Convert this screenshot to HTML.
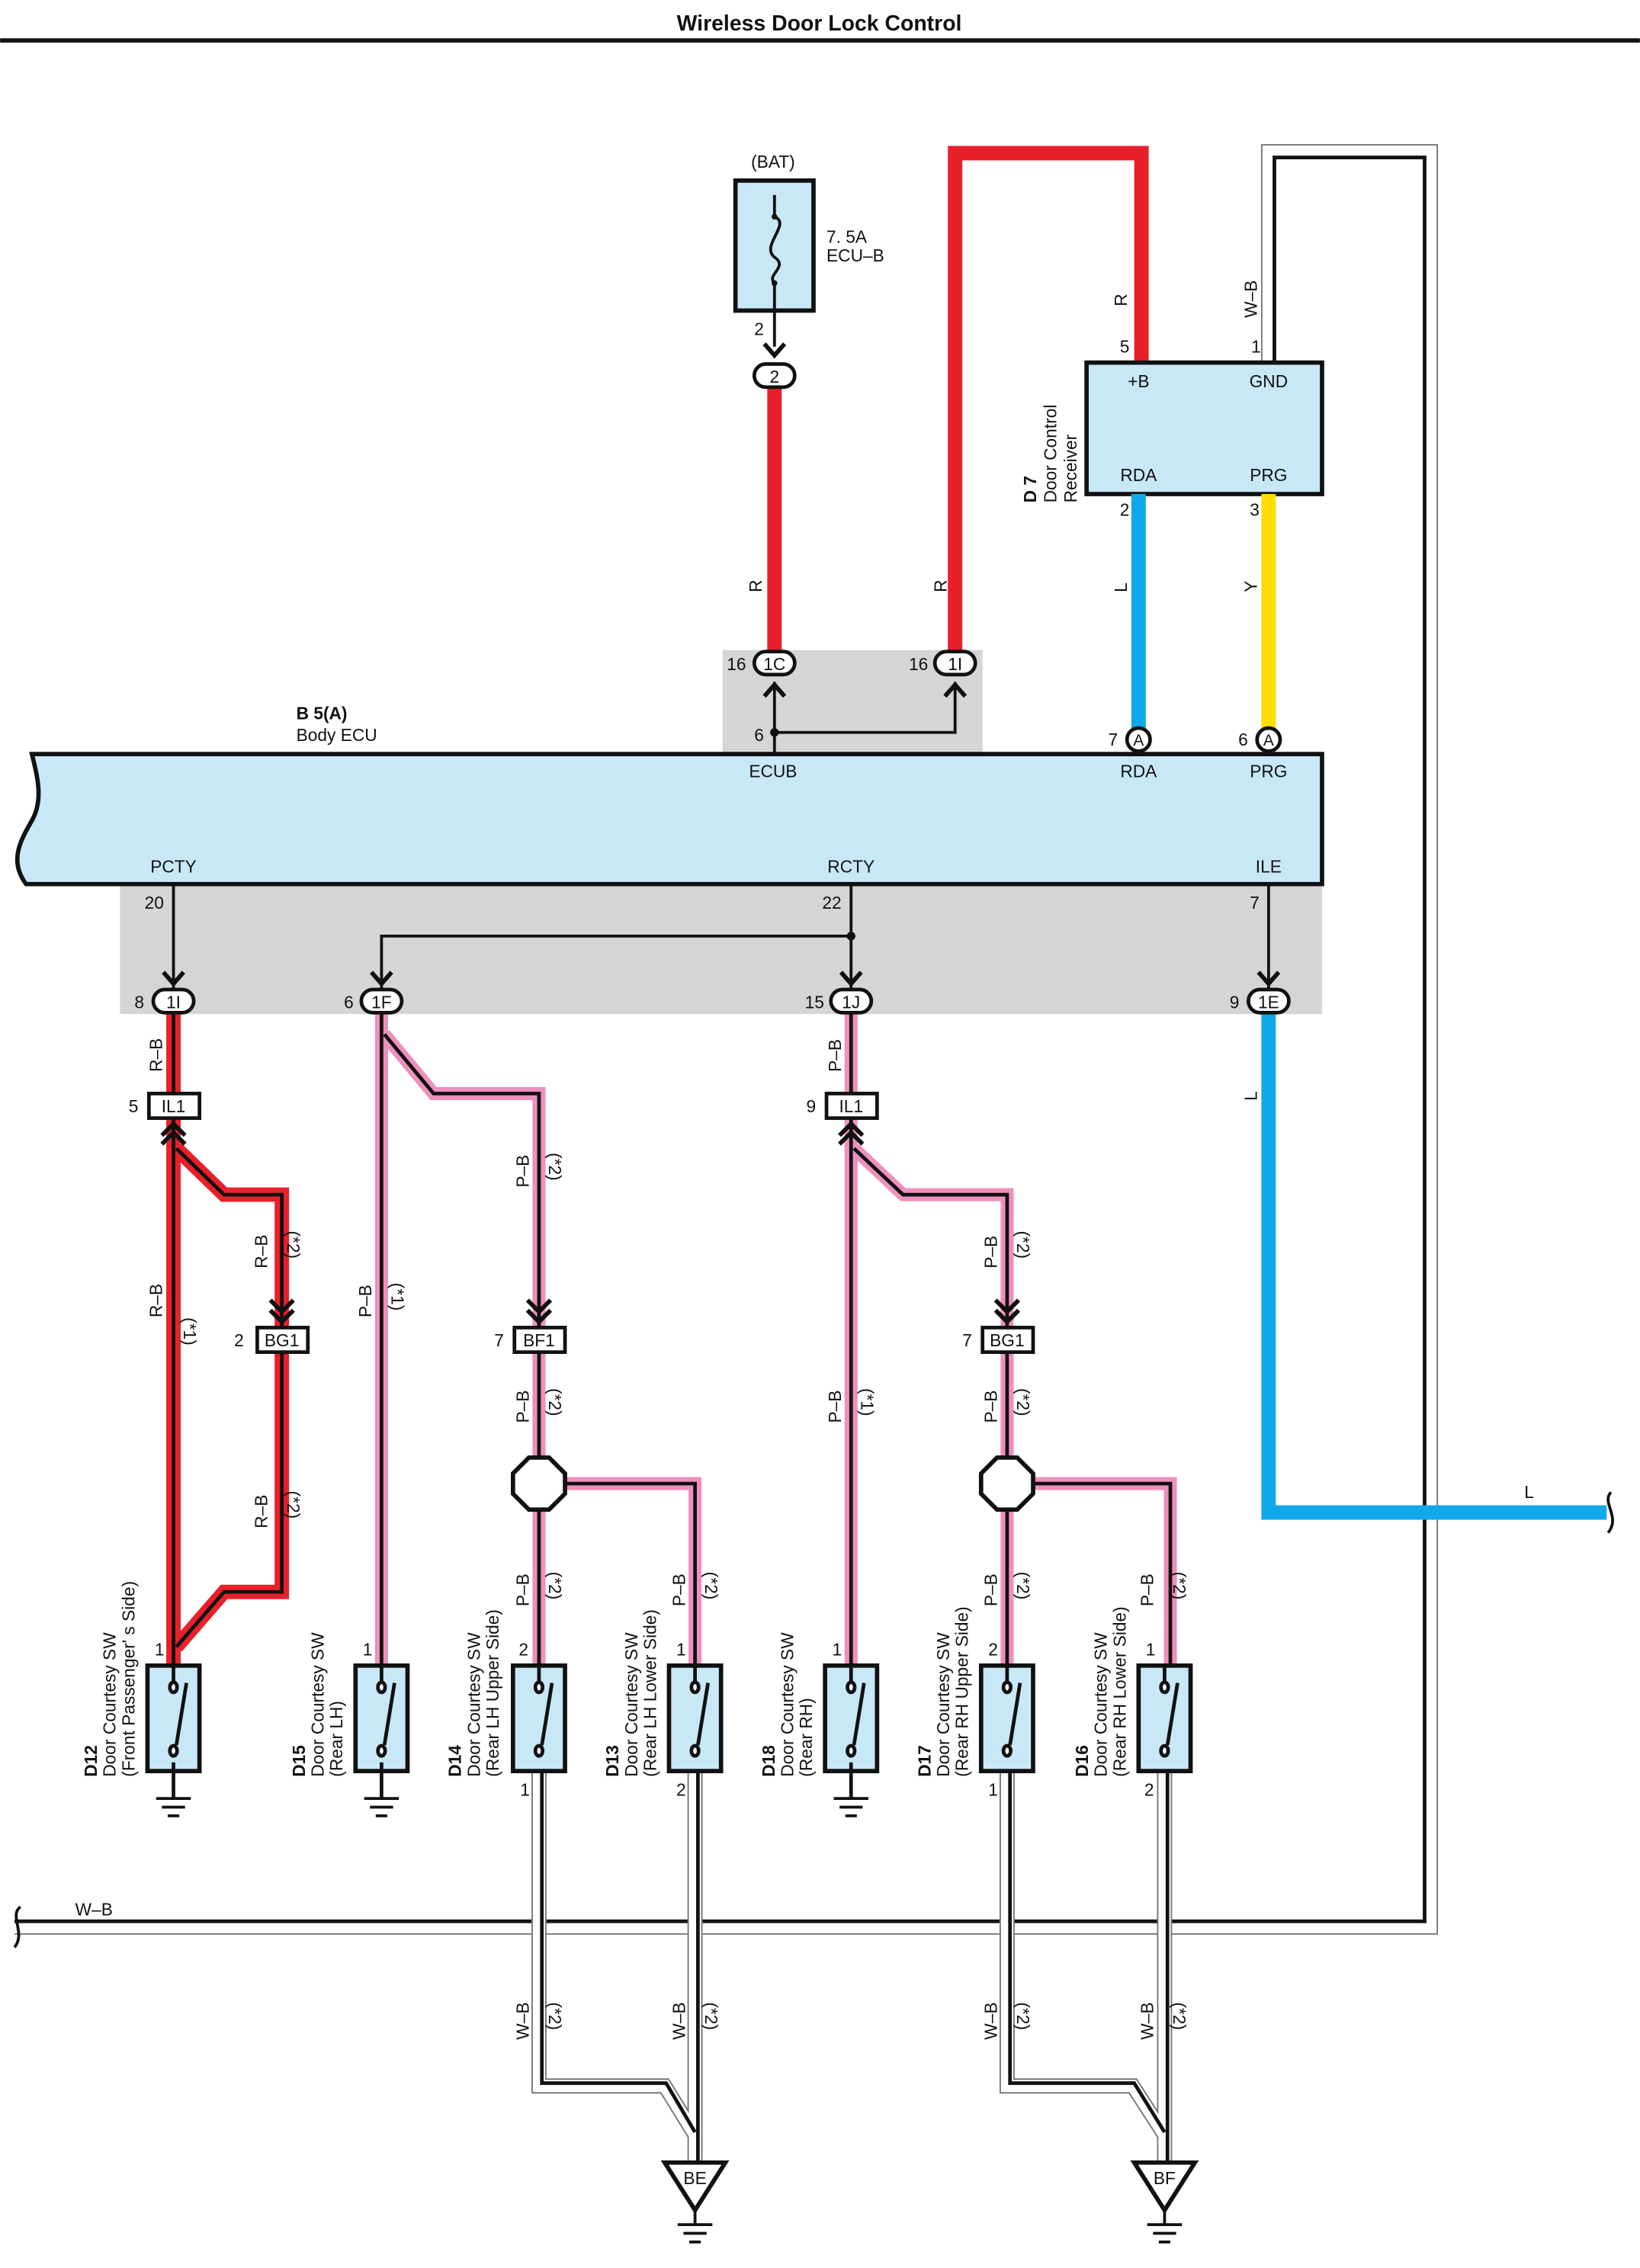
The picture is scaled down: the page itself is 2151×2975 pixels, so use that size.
<!DOCTYPE html>
<html><head><meta charset="utf-8"><style>
html,body{margin:0;padding:0;background:#fff;}
svg{display:block;}
text{font-family:"Liberation Sans",sans-serif;font-size:12px;fill:#111;}
.b{font-weight:bold;}
.rb1{stroke:#e8202a;stroke-width:10;fill:none;stroke-linejoin:miter;}
.rb2{stroke:#111;stroke-width:2.5;fill:none;}
.pb1{stroke:#ef8fbd;stroke-width:9;fill:none;}
.pb2{stroke:#111;stroke-width:2.5;fill:none;}
.wb1{stroke:#777;stroke-width:10.5;fill:none;}
.wb0{stroke:#fff;stroke-width:8.5;fill:none;}
.wb2{stroke:#111;stroke-width:2.5;fill:none;}
.r{stroke:#e8202a;stroke-width:10;fill:none;}
.l{stroke:#10a8e8;stroke-width:10;fill:none;}
.y{stroke:#ffdd00;stroke-width:10;fill:none;}
.con{fill:#fff;stroke:#111;stroke-width:2.5;}
.box{fill:#fff;stroke:#111;stroke-width:2.5;}
.sw{fill:#c8e8f8;stroke:#111;stroke-width:3;}
.ln{stroke:#111;stroke-width:2;fill:none;}
.chev{stroke:#111;stroke-width:3;fill:none;}
</style></head><body>
<svg width="2151" height="2975" viewBox="0 0 1135 1570" xmlns="http://www.w3.org/2000/svg">
<text x="567" y="21" text-anchor="middle" class="b" style="font-size:15px">Wireless Door Lock Control</text>
<line x1="0" y1="28" x2="1135" y2="28" stroke="#111" stroke-width="3"/>

<!-- gray backgrounds -->
<rect x="500" y="450" width="180" height="72" fill="#d4d5d7"/>
<rect x="83" y="612" width="832" height="90" fill="#d4d5d7"/>

<!-- W-B big loop -->
<g>
<path d="M878,250 L878,105 L990,105 L990,1334 L10,1334" class="wb1"/>
<path d="M878,250 L878,105 L990,105 L990,1334 L10,1334" class="wb0"/>
<path d="M882,250 L882,109 L986,109 L986,1330 L10,1330" class="wb2"/>
</g>
<path d="M14,1320 C6,1326 18,1338 10,1348" class="ln"/>
<text x="52" y="1326">W–B</text>
<text transform="translate(870,220) rotate(-90)">W–B</text>
<text x="866" y="244">1</text>

<!-- Fuse -->
<text x="535" y="116" text-anchor="middle">(BAT)</text>
<rect x="509" y="125" width="54" height="90" class="sw"/>
<path d="M536,135 L536,150 C548,155 526,170 536,178 C546,185 530,190 536,196 L536,240" class="ln"/>
<circle cx="536" cy="150" r="2" fill="#111"/><circle cx="536" cy="196" r="2" fill="#111"/>
<text x="572" y="168">7. 5A</text>
<text x="572" y="181">ECU–B</text>
<text x="522" y="232">2</text>
<path d="M529,238 L536,246 L543,238" class="chev"/>
<path class="r" d="M536,268 L536,452"/>
<rect x="522" y="252" width="28" height="16" rx="8" class="con"/>
<text x="536" y="265" text-anchor="middle">2</text>
<text transform="translate(527,410) rotate(-90)">R</text>

<!-- R to receiver -->
<path class="r" d="M661,452 L661,106 L790,106 L790,252"/>
<text transform="translate(655,410) rotate(-90)">R</text>
<text transform="translate(780,212) rotate(-90)">R</text>
<text x="775" y="244">5</text>

<!-- Receiver -->
<rect x="752" y="251" width="163" height="91" class="sw"/>
<text x="788" y="268" text-anchor="middle">+B</text>
<text x="878" y="268" text-anchor="middle">GND</text>
<text x="788" y="333" text-anchor="middle">RDA</text>
<text x="878" y="333" text-anchor="middle">PRG</text>
<text transform="translate(717,348) rotate(-90)" class="b">D 7</text>
<text transform="translate(731,348) rotate(-90)">Door Control</text>
<text transform="translate(745,348) rotate(-90)">Receiver</text>
<path class="l" d="M788,342 L788,504"/>
<path class="y" d="M878,342 L878,504"/>
<text x="775" y="357">2</text><text x="865" y="357">3</text>
<text transform="translate(780,410) rotate(-90)">L</text>
<text transform="translate(870,410) rotate(-90)">Y</text>
<circle cx="788" cy="512" r="8" class="con"/><text x="788" y="516" text-anchor="middle" style="font-size:11px">A</text>
<circle cx="878" cy="512" r="8" class="con"/><text x="878" y="516" text-anchor="middle" style="font-size:11px">A</text>
<text x="767" y="516">7</text><text x="857" y="516">6</text>

<!-- ECUB connectors -->
<rect x="522" y="451" width="28" height="16" rx="8" class="con"/>
<text x="536" y="464" text-anchor="middle">1C</text>
<rect x="647" y="451" width="28" height="16" rx="8" class="con"/>
<text x="661" y="464" text-anchor="middle">1I</text>
<text x="503" y="464">16</text><text x="629" y="464">16</text>
<path d="M536,522 L536,507 L661,507 L661,472" class="ln"/>
<line x1="536" y1="507" x2="536" y2="472" class="ln"/>
<circle cx="536" cy="507" r="3" fill="#111"/>
<path d="M529,482 L536,474 L543,482" class="chev"/>
<path d="M654,482 L661,474 L668,482" class="chev"/>
<text x="522" y="513">6</text>

<!-- Body ECU -->
<text x="205" y="498" class="b">B 5(A)</text>
<text x="205" y="513">Body ECU</text>
<path d="M22,522 L915,522 L915,612 L18,612 C6,596 14,582 22,568 C30,554 26,538 22,522 Z" fill="#c8e8f8" stroke="#111" stroke-width="3"/>
<text x="535" y="538" text-anchor="middle">ECUB</text>
<text x="788" y="538" text-anchor="middle">RDA</text>
<text x="878" y="538" text-anchor="middle">PRG</text>
<text x="120" y="604" text-anchor="middle">PCTY</text>
<text x="589" y="604" text-anchor="middle">RCTY</text>
<text x="878" y="604" text-anchor="middle">ILE</text>
<text x="100" y="629">20</text><text x="569" y="629">22</text><text x="865" y="629">7</text>

<!-- ECU lower lines -->
<line x1="120" y1="612" x2="120" y2="684" class="ln"/>
<path d="M589,612 L589,684 M589,648 L264,648 L264,684" class="ln"/>
<circle cx="589" cy="648" r="3" fill="#111"/>
<line x1="878" y1="612" x2="878" y2="684" class="ln"/>
<path d="M113,673 L120,681 L127,673 M257,673 L264,681 L271,673 M582,673 L589,681 L596,673 M871,673 L878,681 L885,673" class="chev"/>

<!-- L blue -->
<path class="l" d="M878,700 L878,1047 L1112,1047"/>
<path d="M1115,1033 C1108,1040 1122,1050 1113,1061" class="ln"/>
<text transform="translate(870,762) rotate(-90)">L</text>
<text x="1055" y="1037">L</text>

<!-- R-B left column -->
<g>
<path class="rb1" d="M120,700 L120,1152"/>
<path class="rb1" d="M122,795 L155,827 L195,827 L195,918"/>
<path class="rb1" d="M195,936 L195,1102 L155,1102 L122,1140"/>
<path class="rb2" d="M120,700 L120,1152"/>
<path class="rb2" d="M122,795 L155,827 L195,827 L195,918"/>
<path class="rb2" d="M195,936 L195,1102 L155,1102 L122,1140"/>
</g>
<rect x="103" y="757" width="35" height="17" class="box"/>
<text x="120" y="770" text-anchor="middle">IL1</text><text x="89" y="770">5</text>
<path d="M112,786 L120,778 L128,786 M112,792 L120,784 L128,792" class="chev"/>
<rect x="178" y="919" width="35" height="17" class="box"/>
<text x="195" y="932" text-anchor="middle">BG1</text><text x="162" y="932">2</text>
<path d="M187,900 L195,908 L203,900 M187,907 L195,915 L203,907" class="chev"/>
<text transform="translate(112,742) rotate(-90)">R–B</text>
<text transform="translate(112,912) rotate(-90)">R–B</text>
<text transform="translate(127,912) rotate(90)">(*1)</text>
<text transform="translate(185,878) rotate(-90)">R–B</text>
<text transform="translate(199,852) rotate(90)">(*2)</text>
<text transform="translate(185,1058) rotate(-90)">R–B</text>
<text transform="translate(199,1032) rotate(90)">(*2)</text>

<!-- P-B 1F column -->
<g>
<path class="pb1" d="M264,700 L264,1152"/>
<path class="pb1" d="M266,716 L300,757 L373,757 L373,918"/>
<path class="pb1" d="M373,936 L373,1152"/>
<path class="pb1" d="M392,1027 L481,1027 L481,1152"/>
<path class="pb2" d="M264,700 L264,1152"/>
<path class="pb2" d="M266,716 L300,757 L373,757 L373,918"/>
<path class="pb2" d="M373,936 L373,1152"/>
<path class="pb2" d="M392,1027 L481,1027 L481,1152"/>
</g>
<rect x="356" y="919" width="35" height="17" class="box"/>
<text x="373" y="932" text-anchor="middle">BF1</text><text x="342" y="932">7</text>
<path d="M365,900 L373,908 L381,900 M365,907 L373,915 L381,907" class="chev"/>
<path d="M366,1009 L380,1009 L391,1020 L391,1034 L380,1045 L366,1045 L355,1034 L355,1020 Z" fill="#fff" stroke="#111" stroke-width="3"/>
<text transform="translate(257,912) rotate(-90)">P–B</text>
<text transform="translate(271,888) rotate(90)">(*1)</text>
<text transform="translate(366,822) rotate(-90)">P–B</text>
<text transform="translate(380,798) rotate(90)">(*2)</text>
<text transform="translate(366,985) rotate(-90)">P–B</text>
<text transform="translate(380,961) rotate(90)">(*2)</text>
<text transform="translate(366,1112) rotate(-90)">P–B</text>
<text transform="translate(380,1088) rotate(90)">(*2)</text>
<text transform="translate(474,1112) rotate(-90)">P–B</text>
<text transform="translate(488,1088) rotate(90)">(*2)</text>

<!-- P-B 1J column -->
<g>
<path class="pb1" d="M589,700 L589,1152"/>
<path class="pb1" d="M591,795 L625,827 L697,827 L697,918"/>
<path class="pb1" d="M697,936 L697,1152"/>
<path class="pb1" d="M716,1027 L810,1027 L810,1152"/>
<path class="pb2" d="M589,700 L589,1152"/>
<path class="pb2" d="M591,795 L625,827 L697,827 L697,918"/>
<path class="pb2" d="M697,936 L697,1152"/>
<path class="pb2" d="M716,1027 L810,1027 L810,1152"/>
</g>
<rect x="572" y="757" width="35" height="17" class="box"/>
<text x="589" y="770" text-anchor="middle">IL1</text><text x="558" y="770">9</text>
<path d="M581,786 L589,778 L597,786 M581,792 L589,784 L597,792" class="chev"/>
<rect x="680" y="919" width="35" height="17" class="box"/>
<text x="697" y="932" text-anchor="middle">BG1</text><text x="666" y="932">7</text>
<path d="M689,900 L697,908 L705,900 M689,907 L697,915 L705,907" class="chev"/>
<path d="M690,1009 L704,1009 L715,1020 L715,1034 L704,1045 L690,1045 L679,1034 L679,1020 Z" fill="#fff" stroke="#111" stroke-width="3"/>
<text transform="translate(582,742) rotate(-90)">P–B</text>
<text transform="translate(582,985) rotate(-90)">P–B</text>
<text transform="translate(596,961) rotate(90)">(*1)</text>
<text transform="translate(690,878) rotate(-90)">P–B</text>
<text transform="translate(704,852) rotate(90)">(*2)</text>
<text transform="translate(690,985) rotate(-90)">P–B</text>
<text transform="translate(704,961) rotate(90)">(*2)</text>
<text transform="translate(690,1112) rotate(-90)">P–B</text>
<text transform="translate(704,1088) rotate(90)">(*2)</text>
<text transform="translate(798,1112) rotate(-90)">P–B</text>
<text transform="translate(812,1088) rotate(90)">(*2)</text>

<!-- Connectors row (on top of wires) -->
<rect x="106" y="685" width="28" height="16" rx="8" class="con"/><text x="120" y="698" text-anchor="middle">1I</text><text x="93" y="698">8</text>
<rect x="250" y="685" width="28" height="16" rx="8" class="con"/><text x="264" y="698" text-anchor="middle">1F</text><text x="238" y="698">6</text>
<rect x="575" y="685" width="28" height="16" rx="8" class="con"/><text x="589" y="698" text-anchor="middle">1J</text><text x="557" y="698">15</text>
<rect x="864" y="685" width="28" height="16" rx="8" class="con"/><text x="878" y="698" text-anchor="middle">1E</text><text x="851" y="698">9</text>

<!-- W-B lower branches -->
<g>
<path class="wb1" d="M373,1226 L373,1444 L460,1444 L481,1478 M481,1226 L481,1496"/>
<path class="wb0" d="M373,1226 L373,1444 L460,1444 L481,1478 M481,1226 L481,1496"/>
<path class="wb2" d="M375,1226 L375,1442 L461,1442 L481,1476 M483,1226 L483,1496"/>
<path class="wb1" d="M697,1226 L697,1444 L784,1444 L806,1478 M806,1226 L806,1496"/>
<path class="wb0" d="M697,1226 L697,1444 L784,1444 L806,1478 M806,1226 L806,1496"/>
<path class="wb2" d="M699,1226 L699,1442 L785,1442 L806,1476 M808,1226 L808,1496"/>
</g>
<text transform="translate(366,1412) rotate(-90)">W–B</text>
<text transform="translate(380,1386) rotate(90)">(*2)</text>
<text transform="translate(474,1412) rotate(-90)">W–B</text>
<text transform="translate(488,1386) rotate(90)">(*2)</text>
<text transform="translate(690,1412) rotate(-90)">W–B</text>
<text transform="translate(704,1386) rotate(90)">(*2)</text>
<text transform="translate(798,1412) rotate(-90)">W–B</text>
<text transform="translate(812,1386) rotate(90)">(*2)</text>
<text x="360" y="1243">1</text><text x="468" y="1243">2</text>
<text x="684" y="1243">1</text><text x="792" y="1243">2</text>

<!-- BE / BF grounds -->
<path d="M460,1497 L502,1497 L481,1530 Z" fill="#fff" stroke="#111" stroke-width="3"/>
<text x="481" y="1512" text-anchor="middle">BE</text>
<path d="M481,1530 L481,1540 M469,1540 L493,1540 M473,1546 L489,1546 M477,1552 L485,1552" class="ln"/>
<path d="M785,1497 L827,1497 L806,1530 Z" fill="#fff" stroke="#111" stroke-width="3"/>
<text x="806" y="1512" text-anchor="middle">BF</text>
<path d="M806,1530 L806,1540 M794,1540 L818,1540 M798,1546 L814,1546 M802,1552 L810,1552" class="ln"/>

<!-- switches -->
<g id="sws">
<rect x="102" y="1153" width="36" height="73" class="sw"/>
<rect x="246" y="1153" width="36" height="73" class="sw"/>
<rect x="355" y="1153" width="36" height="73" class="sw"/>
<rect x="463" y="1153" width="36" height="73" class="sw"/>
<rect x="571" y="1153" width="36" height="73" class="sw"/>
<rect x="679" y="1153" width="36" height="73" class="sw"/>
<rect x="788" y="1153" width="36" height="73" class="sw"/>
</g>
<g stroke="#111" stroke-width="2.5" fill="#fff">
<path d="M120,1153 L120,1164 M120,1220 L120,1245 M129,1165 L122,1208" fill="none"/><ellipse cx="120" cy="1168" rx="2.5" ry="3.5"/><ellipse cx="120" cy="1212" rx="2.5" ry="3.5"/>
<path d="M264,1153 L264,1164 M264,1220 L264,1245 M273,1165 L266,1208" fill="none"/><ellipse cx="264" cy="1168" rx="2.5" ry="3.5"/><ellipse cx="264" cy="1212" rx="2.5" ry="3.5"/>
<path d="M373,1153 L373,1164 M382,1165 L375,1208" fill="none"/><ellipse cx="373" cy="1168" rx="2.5" ry="3.5"/><ellipse cx="373" cy="1212" rx="2.5" ry="3.5"/>
<path d="M481,1153 L481,1164 M490,1165 L483,1208" fill="none"/><ellipse cx="481" cy="1168" rx="2.5" ry="3.5"/><ellipse cx="481" cy="1212" rx="2.5" ry="3.5"/>
<path d="M589,1153 L589,1164 M589,1220 L589,1245 M598,1165 L591,1208" fill="none"/><ellipse cx="589" cy="1168" rx="2.5" ry="3.5"/><ellipse cx="589" cy="1212" rx="2.5" ry="3.5"/>
<path d="M697,1153 L697,1164 M706,1165 L699,1208" fill="none"/><ellipse cx="697" cy="1168" rx="2.5" ry="3.5"/><ellipse cx="697" cy="1212" rx="2.5" ry="3.5"/>
<path d="M806,1153 L806,1164 M815,1165 L808,1208" fill="none"/><ellipse cx="806" cy="1168" rx="2.5" ry="3.5"/><ellipse cx="806" cy="1212" rx="2.5" ry="3.5"/>
</g>
<path d="M108,1245 L132,1245 M112,1251 L128,1251 M116,1257 L124,1257 M252,1245 L276,1245 M256,1251 L272,1251 M260,1257 L268,1257 M577,1245 L601,1245 M581,1251 L597,1251 M585,1257 L593,1257" class="ln"/>
<text x="107" y="1146">1</text><text x="251" y="1146">1</text><text x="359" y="1146">2</text><text x="468" y="1146">1</text>
<text x="576" y="1146">1</text><text x="684" y="1146">2</text><text x="793" y="1146">1</text>

<!-- switch labels -->
<g>
<text transform="translate(67,1230) rotate(-90)" class="b">D12</text>
<text transform="translate(80,1230) rotate(-90)">Door Courtesy SW</text>
<text transform="translate(93,1230) rotate(-90)">(Front Passenger' s Side)</text>
<text transform="translate(211,1230) rotate(-90)" class="b">D15</text>
<text transform="translate(224,1230) rotate(-90)">Door Courtesy SW</text>
<text transform="translate(237,1230) rotate(-90)">(Rear LH)</text>
<text transform="translate(319,1230) rotate(-90)" class="b">D14</text>
<text transform="translate(332,1230) rotate(-90)">Door Courtesy SW</text>
<text transform="translate(345,1230) rotate(-90)">(Rear LH Upper Side)</text>
<text transform="translate(428,1230) rotate(-90)" class="b">D13</text>
<text transform="translate(441,1230) rotate(-90)">Door Courtesy SW</text>
<text transform="translate(454,1230) rotate(-90)">(Rear LH Lower Side)</text>
<text transform="translate(536,1230) rotate(-90)" class="b">D18</text>
<text transform="translate(549,1230) rotate(-90)">Door Courtesy SW</text>
<text transform="translate(562,1230) rotate(-90)">(Rear RH)</text>
<text transform="translate(644,1230) rotate(-90)" class="b">D17</text>
<text transform="translate(657,1230) rotate(-90)">Door Courtesy SW</text>
<text transform="translate(670,1230) rotate(-90)">(Rear RH Upper Side)</text>
<text transform="translate(753,1230) rotate(-90)" class="b">D16</text>
<text transform="translate(766,1230) rotate(-90)">Door Courtesy SW</text>
<text transform="translate(779,1230) rotate(-90)">(Rear RH Lower Side)</text>
</g>
</svg>
</body></html>
